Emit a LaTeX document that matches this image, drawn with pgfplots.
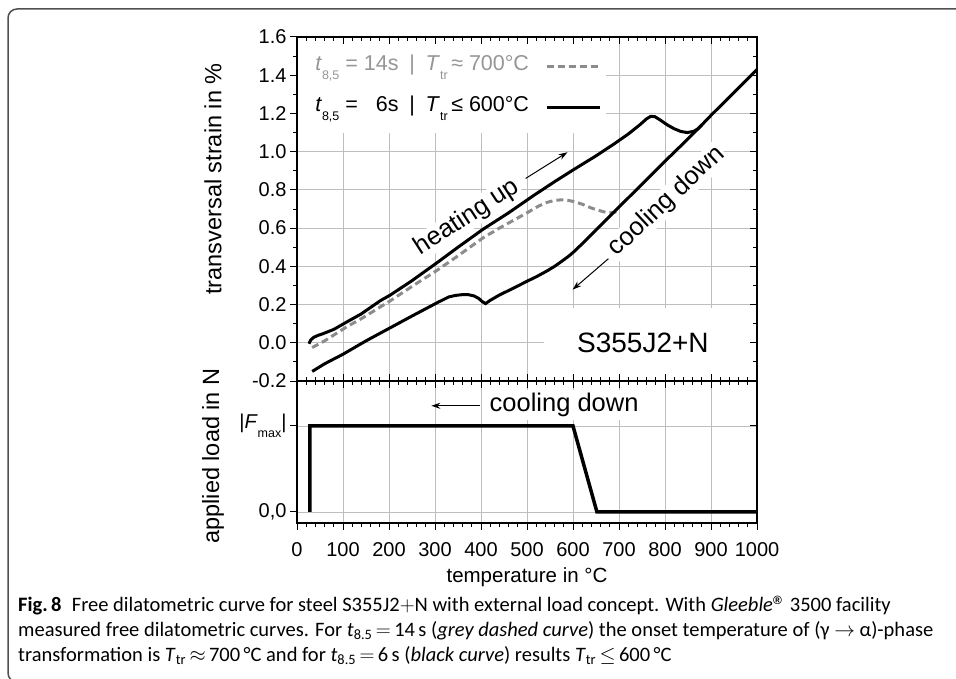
\documentclass[border=0pt]{standalone}
\usepackage{fontspec}
\setmainfont{Liberation Sans}
\newfontfamily\capfont{Carlito}
\newfontfamily\regfont{Liberation Sans}
\usepackage{pgfplots}
\pgfplotsset{compat=1.18}
\usetikzlibrary{arrows.meta}
\definecolor{gridc}{RGB}{190,190,190}
\definecolor{dgray}{RGB}{140,140,140}
\definecolor{lgtext}{RGB}{150,150,150}
\definecolor{framec}{RGB}{80,80,80}
\newcommand\fs[1]{\fontsize{#1}{#1}\selectfont}
\newcommand\lsub[1]{\raisebox{-0.42em}{\fs{12.5}#1}}

\pgfplotsset{
  base/.style={scale only axis, width=460pt, xmin=0, xmax=1000,
    xtick={0,100,200,300,400,500,600,700,800,900,1000},
    minor x tick num=4,
    axis line style={line width=1.1pt},
    tick style={black, line width=1pt},
    major tick length=7pt, minor tick length=4pt,
    ticklabel style={font=\fs{20}},
  },
  up/.style={base, at={(297pt,-381pt)}, anchor=south west, height=344pt,
    ymin=-0.2, ymax=1.6,
    ytick={-0.2,0,0.2,0.4,0.6,0.8,1.0,1.2,1.4,1.6}, minor y tick num=1},
  lo/.style={base, at={(297pt,-381pt)}, anchor=north west, height=142pt,
    ymin=-0.128, ymax=1.523, ytick={0,1}},
}

\begin{document}
\begin{tikzpicture}
\path[use as bounding box] (0pt,0pt) rectangle (956pt,-679pt);
\draw[framec, line width=1.5pt, rounded corners=9pt] (990pt,-682pt) -- (8pt,-682pt) -- (8pt,-9pt) -- (990pt,-9pt);

% ---------- upper: grid, data ----------
\begin{axis}[up, grid=major, major grid style={gridc, line width=0.9pt},
  major tick length=0pt, minor tick length=0pt, xticklabels={}, yticklabels={},
  legend plot pos=right, legend cell align=left,
  legend style={draw=none, fill=none, at={(0.035,0.955)}, anchor=north west,
    font=\fs{21.5}, row sep=14pt, column sep=14pt, inner sep=0pt,
    nodes={inner sep=2pt, text height=16pt, text depth=7pt}},
  legend image code/.code={\draw[#1] (0pt,0pt) -- (53pt,0pt);},
  ]
  \fill[white] (axis cs:0,1.6) rectangle (axis cs:671,1.097);
  \fill[white] (axis cs:536,0.184) rectangle (axis cs:1000,-0.2);
  \node[font=\fs{28}] at (axis cs:752,0.0) {S355J2+N};
  \node[rotate=33, fill=white, inner sep=1pt, font=\fs{25.5}] at (axis cs:370,0.656) {heating up};
  \draw[-{Stealth[length=9pt,width=6pt]}, line width=1pt] (axis cs:497,0.86) -- (axis cs:588,0.997);
  \node[rotate=43, fill=white, inner sep=1pt, font=\fs{25.5}] at (axis cs:804,0.74) {cooling down};
  \draw[-{Stealth[length=9pt,width=6pt]}, line width=1pt] (axis cs:677,0.44) -- (axis cs:599,0.278);

  \addplot[dgray, dash pattern=on 7pt off 4pt, line width=3pt] coordinates {
    (33,-0.025) (60,0.01) (109,0.085) (139,0.125) (203,0.22) (250,0.295) (305,0.38)
    (350,0.455) (405,0.55) (440,0.6) (470,0.64) (500,0.68) (525,0.715) (544,0.735)
    (560,0.745) (575,0.748) (590,0.745) (605,0.737) (620,0.725) (640,0.705) (660,0.69)
    (675,0.68) (690,0.682) (697,0.69)};
  \addlegendentry{\color{lgtext}\textit{t}\lsub{8,5} = 14s\enspace|\enspace\textit{T}\lsub{tr}\,≈ 700°C}
  \addplot[black, line width=3pt] coordinates {
    (26,-0.005) (30,0.015) (36,0.028) (45,0.038) (57,0.048) (80,0.07) (109,0.11)
    (139,0.15) (181,0.22) (203,0.25) (250,0.325) (305,0.42) (350,0.5) (405,0.595)
    (460,0.68) (514,0.77) (560,0.843) (602,0.907) (650,0.978) (689,1.04) (720,1.092)
    (745,1.14) (760,1.172) (769,1.185) (778,1.183) (790,1.165) (805,1.14) (820,1.12)
    (834,1.106) (848,1.1) (862,1.106) (872,1.12) (880,1.14)};
  \addlegendentry{\textit{t}\lsub{8,5} = \phantom{1}6s\enspace|\enspace\textit{T}\lsub{tr}\,≤ 600°C}
  \addplot[black, line width=3pt, forget plot] coordinates {
    (1000,1.43) (950,1.31) (900,1.19) (872,1.12) (850,1.067) (800,0.95) (750,0.83)
    (700,0.71) (650,0.59) (620,0.518) (600,0.472) (590,0.452) (573,0.422) (560,0.40)
    (545,0.378) (520,0.345) (500,0.322) (470,0.285) (440,0.25) (420,0.222) (410,0.205)
    (403,0.215) (395,0.232) (385,0.245) (372,0.252) (360,0.252) (345,0.248) (330,0.24)
    (305,0.21) (250,0.14) (200,0.075) (150,0.01) (100,-0.06) (60,-0.11) (33,-0.15)};
\end{axis}
% upper: inside ticks (top, bottom, right)
\begin{axis}[up, tick align=inside, xtick pos=both, ytick pos=right,
  xticklabels={}, yticklabels={}]
\end{axis}
% upper: left ticks outward with labels
\begin{axis}[up, axis y line*=left, axis x line=none, axis line style={-}, tick align=outside,
  yticklabels={-0.2,0.0,0.2,0.4,0.6,0.8,1.0,1.2,1.4,1.6}]
\end{axis}

% ---------- lower ----------
\begin{axis}[lo, grid=major, major grid style={gridc, line width=0.9pt},
  major tick length=0pt, minor tick length=0pt, xticklabels={}, yticklabels={}]
  \node[fill=white, anchor=base west, inner sep=3pt, font=\fs{25.5}] at (axis cs:412,1.165) {cooling down};
  \draw[-{Stealth[length=9pt,width=6pt]}, line width=1pt] (axis cs:398,1.235) -- (axis cs:292,1.235);
  \addplot[black, line width=3.5pt] coordinates {(28,0) (28,1) (600,1) (652,0) (1000,0)};
\end{axis}
\begin{axis}[lo, tick align=inside, xtick pos=right, ytick pos=right,
  xticklabels={}, yticklabels={}]
\end{axis}
\begin{axis}[lo, axis x line*=bottom, axis y line*=left, axis line style={-}, tick align=outside,
  xticklabel style={yshift=-9pt},
  xticklabels={0,100,200,300,400,500,600,700,800,900,1000},
  yticklabels={{0,0},{|\textit{F}\lsub{max}|}}]
\end{axis}

% axis labels
\node[rotate=90, font=\fs{23.5}] at (213pt,-179pt) {transversal strain in \%};
\node[rotate=90, font=\fs{23.5}] at (213pt,-456pt) {applied load in N};
\node[font=\fs{20.5}] at (527pt,-577pt) {temperature in °C};

% caption
\begin{scope}[every node/.style={anchor=base west, inner sep=0pt, font=\capfont\fs{20.5}}]
\node at (18pt,-611pt) {\textbf{Fig.\,8}\enspace Free dilatometric curve for steel S355J2$+$N with external load concept. With \textit{Gleeble}\raisebox{0.7ex}{\regfont\fs{12}\textbf{®}}\, 3500 facility};
\node at (18pt,-636pt) {measured free dilatometric curves. For \textit{t}\textsubscript{8.5}\,$=$\,14\,s (\textit{grey dashed curve}) the onset temperature of (γ $\rightarrow$ α)-phase};
\node at (18pt,-661pt) {transformation is \textit{T}\textsubscript{tr}\,$\approx$\,700\,°C and for \textit{t}\textsubscript{8.5}\,$=$\,6\,s (\textit{black curve}) results \textit{T}\textsubscript{tr}\,$\leq$\,600\,°C};
\end{scope}
\end{tikzpicture}
\end{document}
